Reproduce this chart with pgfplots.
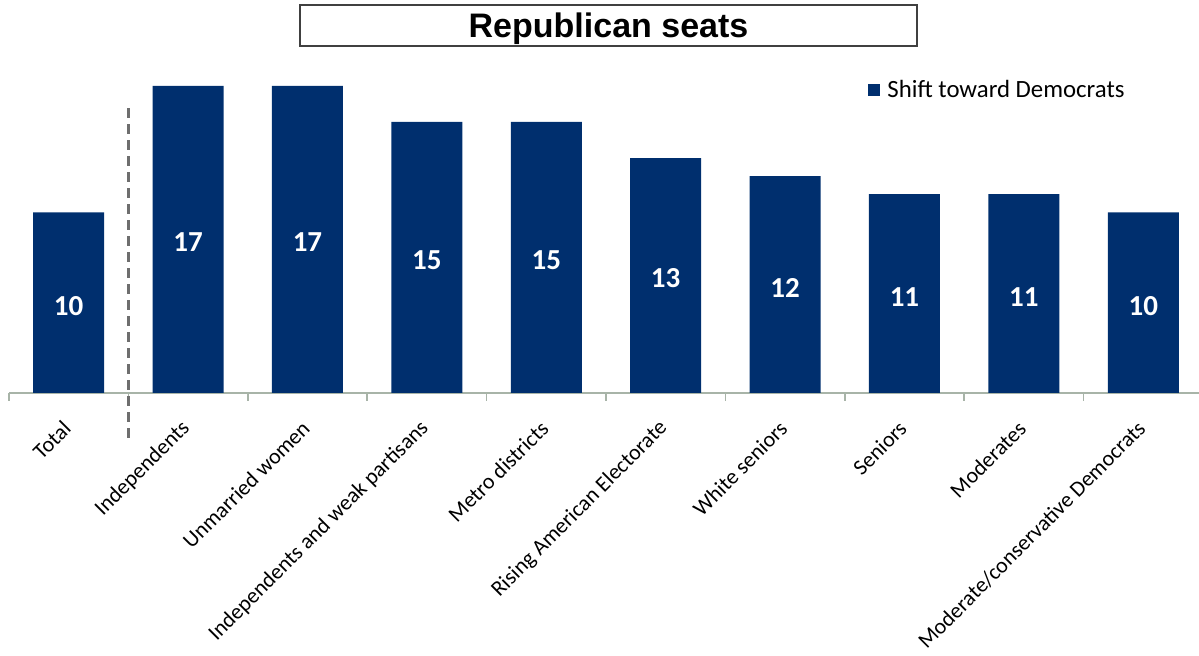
\documentclass[border=0pt]{standalone}
\usepackage{pgfplots}
\pgfplotsset{compat=1.18}
\usepackage{pgfplotstable}
\usepackage{fontspec}
\setmainfont{Carlito}
\newfontfamily\titlefont{Liberation Sans}
\definecolor{barblue}{RGB}{0,47,110}
\definecolor{axisgray}{RGB}{168,180,168}
\definecolor{dashgray}{RGB}{110,110,110}
\pgfplotstableread{
x y
0 10
1 17
2 17
3 15
4 15
5 13
6 12
7 11
8 11
9 10
}\seats
\begin{document}
\begin{tikzpicture}
\begin{axis}[
  scale only axis,
  width=595pt, height=166.5pt,
  xmin=-0.5, xmax=9.467,
  ymin=0, ymax=18.43,
  axis x line*=bottom,
  axis y line=none,
  x axis line style={draw=axisgray, line width=0.8pt, -},
  xtick={0,...,9},
  xticklabels={Total,Independents,Unmarried women,Independents and weak partisans,Metro districts,Rising American Electorate,White seniors,Seniors,Moderates,Moderate/conservative Democrats},
  major x tick style={draw=none},
  minor xtick={-0.5,0.5,...,8.5},
  minor x tick style={draw=axisgray, line width=0.8pt},
  minor tick length=4pt,
  tick align=outside,
  xticklabel style={rotate=45, anchor=east, font=\fontsize{11}{13}\selectfont, xshift=-5.4pt, yshift=-7.7pt},
  clip=false,
  /pgf/number format/assume math mode=true,
  legend style={at={(0.7219,0.91)}, anchor=west, draw=none, fill=none, inner sep=0pt,
    font=\fontsize{12.4}{14}\selectfont},
  legend image code/.code={\fill[barblue] (0pt,-3pt) rectangle (6pt,3pt);},
]
\addplot[ybar, bar width=35.5pt, fill=barblue, draw=none] table[x=x, y=y] {\seats};
\addlegendentry{\hspace{1.5pt}Shift toward Democrats}
\addplot[draw=none, mark=none, nodes near coords, point meta=explicit,
  every node near coord/.append style={anchor=center, yshift=-1.5pt, text=white, font=\fontsize{14.5}{16}\selectfont\bfseries},
  forget plot] table[x=x, y expr=\thisrow{y}/2, meta=y] {\seats};
\draw[dashgray, line width=1.2pt, dash pattern=on 5pt off 3pt] (axis cs:0.5,15.77) -- (axis cs:0.5,-2.6);
\end{axis}
\draw[draw=black!75, line width=0.9pt] (145.5pt,173.5pt) rectangle (454pt,194pt);
\node[font=\titlefont\fontsize{17}{19}\selectfont\bfseries] at (299.75pt,182pt) {Republican seats};
\pgfresetboundingbox
\path (-4.5pt,-131.5pt) rectangle (595pt,196.5pt);
\end{tikzpicture}
\end{document}
